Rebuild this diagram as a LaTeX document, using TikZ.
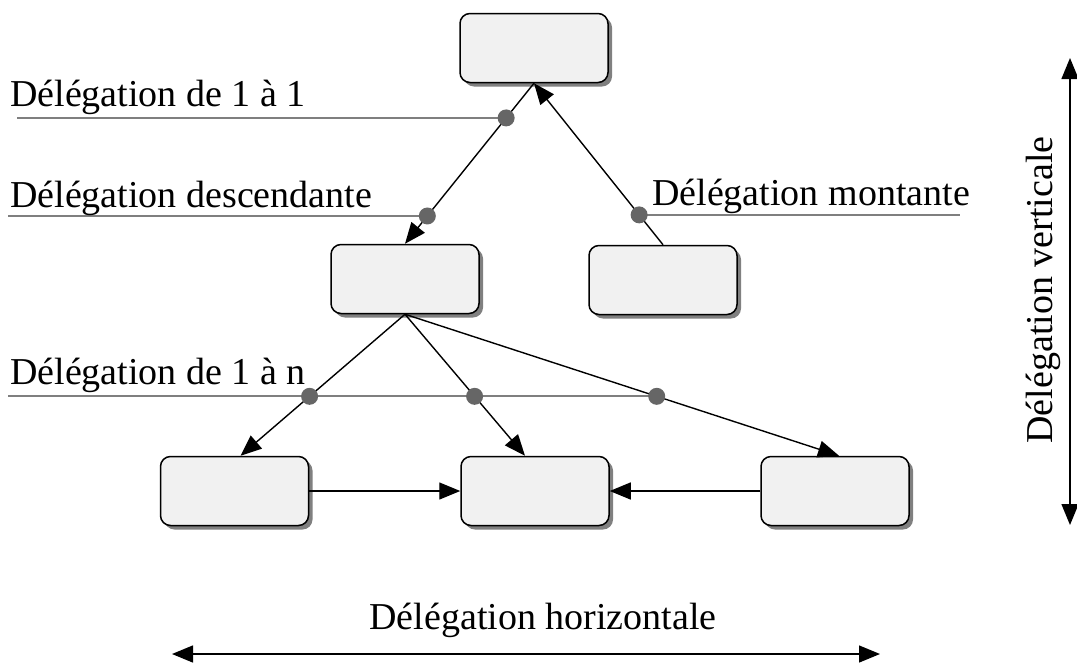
\documentclass[tikz,border=0pt]{standalone}
\usepackage{fontspec}
\setmainfont{Liberation Serif}
\usetikzlibrary{arrows.meta,shadows}
\definecolor{boxfill}{HTML}{F1F1F1}
\definecolor{guide}{HTML}{7F7F7F}
\definecolor{dotc}{HTML}{666666}
\definecolor{shade}{HTML}{808080}
\begin{document}
\begin{tikzpicture}[x=1pt,y=-1pt,
  unit/.style={draw=black, line width=1.5pt, fill=boxfill, rounded corners=10pt,
    minimum width=148pt, minimum height=69pt, inner sep=0pt,
    drop shadow={shadow xshift=4pt, shadow yshift=-4pt, fill=shade, opacity=1}},
  tip/.tip={Triangle[length=21pt,width=17pt]},
  link/.style={line width=1.4pt, -tip},
  both/.style={line width=1.4pt, tip-tip},
  guideline/.style={draw=guide, line width=2pt},
  dot/.style={fill=dotc},
  lbl/.style={font=\fontsize{38}{44}\selectfont, inner sep=0pt}]
\useasboundingbox (0,0) rectangle (1077,662);

% units of the hierarchy
\node[unit] (top) at (534,48) {};
\node[unit] (ml) at (405,279) {};
\node[unit] (mr) at (663,280) {};
\node[unit] (bl) at (234.5,491) {};
\node[unit] (bm) at (535,491) {};
\node[unit] (br) at (835,491) {};

% delegation links, with the points where the labelled guides meet them
\draw[link] (top.south) -- coordinate[pos=0.216] (d11) coordinate[pos=0.827] (ddesc) (ml.north);
\draw[link] (mr.north) -- coordinate[pos=0.185] (dmont) (top.south);
\draw[link] (ml.south) -- coordinate[pos=0.58] (dn1) ([xshift=6pt]bl.north);
\draw[link] (ml.south) -- coordinate[pos=0.58] (dn2) ([xshift=-10pt]bm.north);
\draw[link] (ml.south) -- coordinate[pos=0.58] (dn3) ([xshift=4pt]br.north);
\draw[link] (bl.east) -- (bm.west);
\draw[link] (br.west) -- (bm.east);

% guide lines to the labels
\coordinate (g1) at (17,0);
\coordinate (g2) at (8,0);
\coordinate (g3) at (960,0);
\draw[guideline] (g1 |- d11) -- (d11);
\draw[guideline] (g2 |- ddesc) -- (ddesc);
\draw[guideline] (dmont) -- (g3 |- dmont);
\draw[guideline] (g2 |- dn3) -- (dn3);

\foreach \p in {d11,ddesc,dmont,dn1,dn2,dn3}
  \fill[dot] (\p) circle (8.5pt);

% labels
\node[lbl, anchor=base west] (t11) at (10,106) {Délégation de 1 à 1};
\node[lbl, anchor=base west] (tdesc) at (10,207) {Délégation descendante};
\node[lbl, anchor=base west] (tmont) at (652,205) {Délégation montante};
\node[lbl, anchor=base west] (t1n) at (10,384) {Délégation de 1 à n};

% horizontal and vertical extent
\coordinate (hl) at (172,654);
\coordinate (hr) at (880,654);
\draw[both] (hl) -- (hr);
\node[lbl, anchor=base] (thor) at (543,629) {Délégation horizontale};

\coordinate (vt) at (1070,58);
\coordinate (vb) at (1070,525);
\draw[both] (vt) -- (vb);
\node[lbl, anchor=base, rotate=90] (tver) at (1052,290) {Délégation verticale};
\end{tikzpicture}
\end{document}
